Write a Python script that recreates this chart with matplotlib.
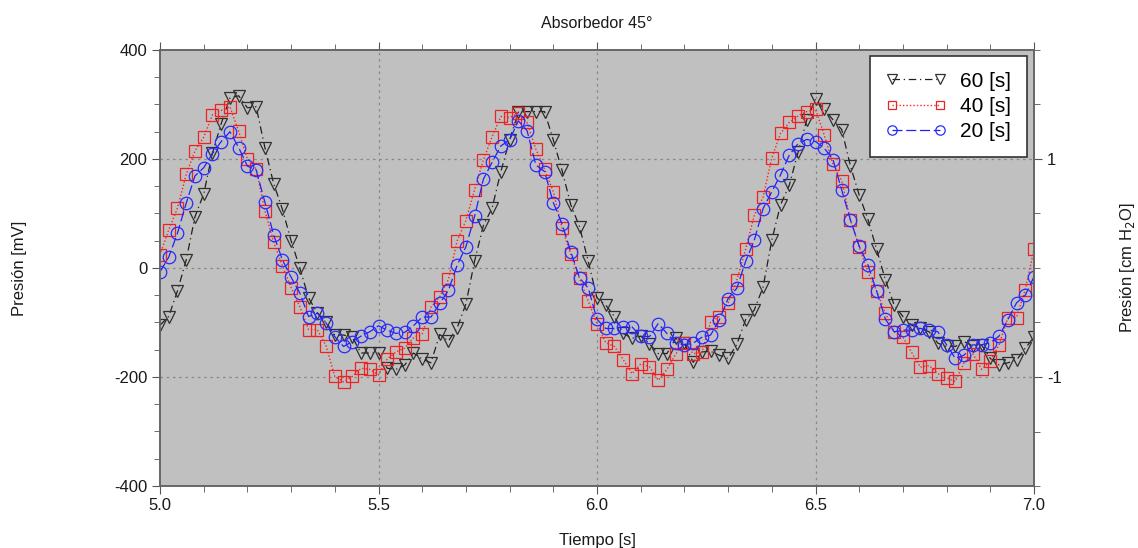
import numpy as np
import matplotlib
matplotlib.use("Agg")
import matplotlib.pyplot as plt
from matplotlib.ticker import MultipleLocator

plt.rcParams['font.family'] = ['Liberation Sans', 'DejaVu Sans']
plt.rcParams['axes.unicode_minus'] = False

# sample times, 0.02 s apart
t = np.round(np.arange(5.0, 7.0001, 0.02), 2)

p60 = [-105, -89, -42, 15, 94, 136, 211, 265, 312, 316, 294, 296, 221, 155, 108, 50,
       0, -55, -82, -100, -123, -123, -127, -156, -156, -156, -184, -186, -178, -156,
       -167, -174, -122, -134, -110, -66, 13, 78, 110, 177, 235, 286, 287, 287, 287,
       235, 179, 116, 76, 12, -55, -68, -89, -120, -129, -125, -139, -157, -157, -129,
       -138, -173, -154, -153, -160, -166, -140, -95, -77, -35, 51, 116, 152, 212, 272,
       310, 291, 272, 254, 187, 134, 89, 34, -22, -68, -89, -105, -111, -117, -138,
       -144, -144, -135, -143, -141, -166, -178, -174, -169, -147, -127]

p40 = [24, 70, 110, 172, 215, 240, 281, 289, 296, 251, 200, 182, 105, 48, 4, -36,
       -71, -113, -113, -143, -199, -209, -199, -184, -186, -196, -167, -154, -147, -128,
       -121, -72, -53, -21, 50, 87, 144, 198, 241, 278, 276, 284, 267, 218, 181,
       140, 73, 25, -19, -61, -102, -137, -144, -168, -194, -176, -181, -206, -186, -158,
       -138, -157, -155, -99, -89, -64, -22, 34, 97, 130, 202, 247, 267, 279, 287,
       291, 244, 190, 160, 88, 39, -8, -42, -83, -117, -127, -155, -182, -179, -194,
       -202, -208, -174, -157, -186, -171, -141, -92, -91, -40, 34]

p20 = [-7, 20, 64, 119, 169, 184, 210, 232, 250, 221, 187, 180, 121, 61, 15, -17,
       -46, -89, -83, -101, -126, -144, -135, -125, -117, -106, -114, -120, -118, -106,
       -90, -90, -65, -41, 5, 39, 95, 163, 194, 224, 235, 270, 252, 189, 177,
       120, 81, 30, -18, -37, -94, -111, -111, -108, -108, -125, -126, -102, -120, -138,
       -141, -138, -127, -123, -95, -56, -37, 12, 51, 109, 140, 171, 207, 228, 236,
       232, 220, 199, 143, 88, 40, 6, -43, -94, -117, -114, -114, -111, -114, -117,
       -141, -166, -160, -141, -141, -137, -125, -95, -64, -50, -16]

labels = ['60 [s]', '40 [s]', '20 [s]']

fig = plt.figure(figsize=(11.38, 5.48), dpi=100)
ax = fig.add_axes([160/1138, 1 - 486/548, 874/1138, 436/548])
ax.set_facecolor('#c0c0c0')

ax.plot(t, p60, color='#202020', ls=(0, (6, 3, 1, 3)), lw=0.9, marker='v', ms=9,
        mfc='none', mec='#303030', mew=0.9, label=labels[0])
ax.plot(t, p40, color='#ff2020', ls=(0, (1, 1.5)), lw=1.0, marker='s', ms=8.5,
        mfc='none', mec='#ee2222', mew=0.9, label=labels[1])
ax.plot(t, p20, color='#1f1fff', ls=(0, (8, 3)), lw=0.9, marker='o', ms=9,
        mfc='none', mec='#2a2aff', mew=0.9, label=labels[2])

ax.set_xlim(5.0, 7.0)
ax.set_ylim(-400, 400)
ax.xaxis.set_minor_locator(MultipleLocator(0.1))
ax.yaxis.set_major_locator(MultipleLocator(200))
ax.yaxis.set_minor_locator(MultipleLocator(50))
ax.set_xticks([5.0, 5.5, 6.0, 6.5, 7.0])
ax.set_xticklabels(['5.0', '5.5', '6.0', '6.5', '7.0'])
ax.tick_params(which='both', direction='out', top=True, labelsize=12,
               color='#555555', labelcolor='#1a1a1a', pad=3)
ax.tick_params(which='major', length=6)
ax.tick_params(which='minor', length=4)

for v in [5.5, 6.0, 6.5]:
    ax.axvline(v, color='#888888', ls=(0, (2, 3)), lw=0.9, zorder=0.5)
for v in [-200, 0, 200]:
    ax.axhline(v, color='#888888', ls=(0, (2, 3)), lw=0.9, zorder=0.5)

for s in ax.spines.values():
    s.set_color('#666666')
    s.set_linewidth(1.2)

ax2 = ax.twinx()
ax2.set_ylim(-2, 2)
ax2.set_yticks([-1, 1])
ax2.yaxis.set_minor_locator(MultipleLocator(0.5))
ax2.tick_params(which='both', direction='out', labelsize=12, color='#555555',
                labelcolor='#1a1a1a')
ax2.tick_params(which='major', length=6)
ax2.tick_params(which='minor', length=4)
for s in ax2.spines.values():
    s.set_color('#666666')
    s.set_linewidth(1.2)

ax.set_xlabel('Tiempo [s]', fontsize=12, labelpad=14, color='#1a1a1a')
ax.set_ylabel('Presión [mV]', fontsize=12, color='#1a1a1a')
ax.yaxis.set_label_coords(-0.152, 0.5)
ax2.set_ylabel('Presión [cm H$_2$O]', fontsize=12, color='#1a1a1a')
ax2.yaxis.set_label_coords(1.096, 0.5)
ax.set_title('Absorbedor 45°', fontsize=11.5, pad=16, color='#1a1a1a')

leg = ax.legend(loc='upper right', numpoints=2, fontsize=15, frameon=True,
                fancybox=False, edgecolor='#333333', framealpha=1,
                handlelength=2.9, handletextpad=0.7, borderpad=0.75,
                labelspacing=0.3, markerscale=0.75, borderaxespad=0,
                bbox_to_anchor=(0.992, 0.986))
leg.get_frame().set_linewidth(1.2)

fig.savefig('out.png', dpi=100)
